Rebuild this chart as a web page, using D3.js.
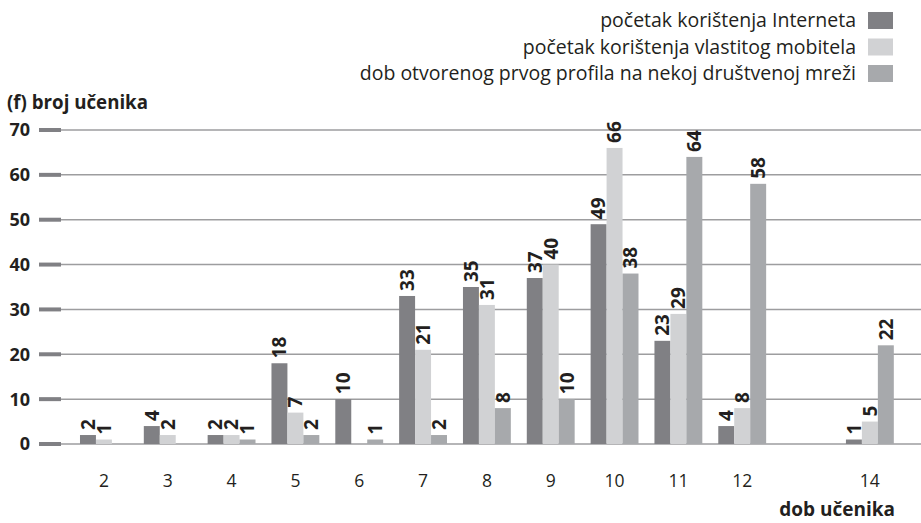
<!DOCTYPE html>
<html>
<head>
<meta charset="utf-8">
<script src="https://cdn.jsdelivr.net/npm/d3@7"></script>
<style>
    body { margin: 0; background: #fff; }
    svg text { font-family: "Open Sans", Lato, sans-serif; fill: #231f20; }
</style>
</head>
<body>
<div id="chart"></div>
<script>
const svgWidth = 921,
    svgHeight = 523;

// data
const ages = ["2", "3", "4", "5", "6", "7", "8", "9", "10", "11", "12", "13", "14"];
const ageLabels = ["2", "3", "4", "5", "6", "7", "8", "9", "10", "11", "12", "", "14"];
const internet = [2, 4, 2, 18, 10, 33, 35, 37, 49, 23, 4, null, 1];
const mobitel = [1, 2, 2, 7, null, 21, 31, 40, 66, 29, 8, null, 5];
const profil = [null, null, 1, 2, 1, 2, 8, 10, 38, 64, 58, null, 22];
const seriesNames = [
    "početak korištenja Interneta",
    "početak korištenja vlastitog mobitela",
    "dob otvorenog prvog profila na nekoj društvenoj mreži"
];
const yTicks = [0, 10, 20, 30, 40, 50, 60, 70];

const colors = ["#808084", "#d1d2d4", "#a7a9ac"];
const series = [internet, mobitel, profil];

let svg = d3.select("#chart").append("svg")
    .attr("width", svgWidth)
    .attr("height", svgHeight);

// scales
let xScale = d3.scaleBand()
    .domain(ages)
    .range([72, 72 + 13 * 63.83])
    .paddingInner(0.25)
    .paddingOuter(0.125);
let xSub = d3.scaleBand()
    .domain([0, 1, 2])
    .range([0, xScale.bandwidth()]);
let yScale = d3.scaleLinear()
    .domain([0, 70])
    .range([444, 130]);

// gridlines + tick marks
let grid = svg.append("g");
grid.selectAll("line.grid")
    .data(yTicks)
    .join("line")
    .attr("class", "grid")
    .attr("x1", 61).attr("x2", svgWidth)
    .attr("y1", (d) => yScale(d)).attr("y2", (d) => yScale(d))
    .attr("stroke", "#9d9d9f")
    .attr("stroke-width", 1.5);
grid.selectAll("line.tick")
    .data(yTicks)
    .join("line")
    .attr("class", "tick")
    .attr("x1", 39).attr("x2", 61)
    .attr("y1", (d) => yScale(d)).attr("y2", (d) => yScale(d))
    .attr("stroke", "#808084")
    .attr("stroke-width", 4);
grid.selectAll("text")
    .data(yTicks)
    .join("text")
    .attr("x", 30)
    .attr("y", (d) => yScale(d))
    .attr("dy", "0.36em")
    .attr("text-anchor", "end")
    .attr("font-size", 18)
    .attr("font-weight", "bold")
    .text((d) => d);

// bars
series.forEach((vals, si) => {
    let data = ages.map((a, i) => ({ age: a, v: vals[i] })).filter((d) => d.v != null);
    let g = svg.append("g");
    g.selectAll("rect")
        .data(data)
        .join("rect")
        .attr("x", (d) => xScale(d.age) + xSub(si))
        .attr("y", (d) => yScale(d.v))
        .attr("width", xSub.bandwidth())
        .attr("height", (d) => yScale(0) - yScale(d.v))
        .attr("fill", colors[si]);
    g.selectAll("text")
        .data(data)
        .join("text")
        .attr("transform", (d) => `translate(${xScale(d.age) + xSub(si) + xSub.bandwidth() / 2}, ${yScale(d.v) - 5}) rotate(-90)`)
        .attr("dy", "0.36em")
        .attr("font-size", 19)
        .attr("font-weight", "bold")
        .text((d) => d.v);
});

// x labels
svg.append("g").selectAll("text")
    .data(ages)
    .join("text")
    .attr("x", (d) => xScale(d) + xScale.bandwidth() / 2)
    .attr("y", 487)
    .attr("text-anchor", "middle")
    .attr("font-size", 17.5)
    .text((d, i) => ageLabels[i]);

// axis titles
svg.append("text")
    .attr("x", 7).attr("y", 109)
    .attr("font-size", 18.7)
    .attr("font-weight", "bold")
    .text("(f) broj učenika");
svg.append("text")
    .attr("x", 895).attr("y", 516)
    .attr("text-anchor", "end")
    .attr("font-size", 19)
    .attr("font-weight", "bold")
    .text("dob učenika");

// legend
let legend = svg.append("g").selectAll("g")
    .data(seriesNames)
    .join("g")
    .attr("transform", (d, i) => `translate(0, ${i * 26.5})`);
legend.append("rect")
    .attr("x", 868).attr("y", 12)
    .attr("width", 25).attr("height", 17)
    .attr("fill", (d, i) => colors[i]);
legend.append("text")
    .attr("x", 856).attr("y", 27)
    .attr("text-anchor", "end")
    .attr("font-size", 19.5)
    .text((d) => d);
</script>
</body>
</html>
